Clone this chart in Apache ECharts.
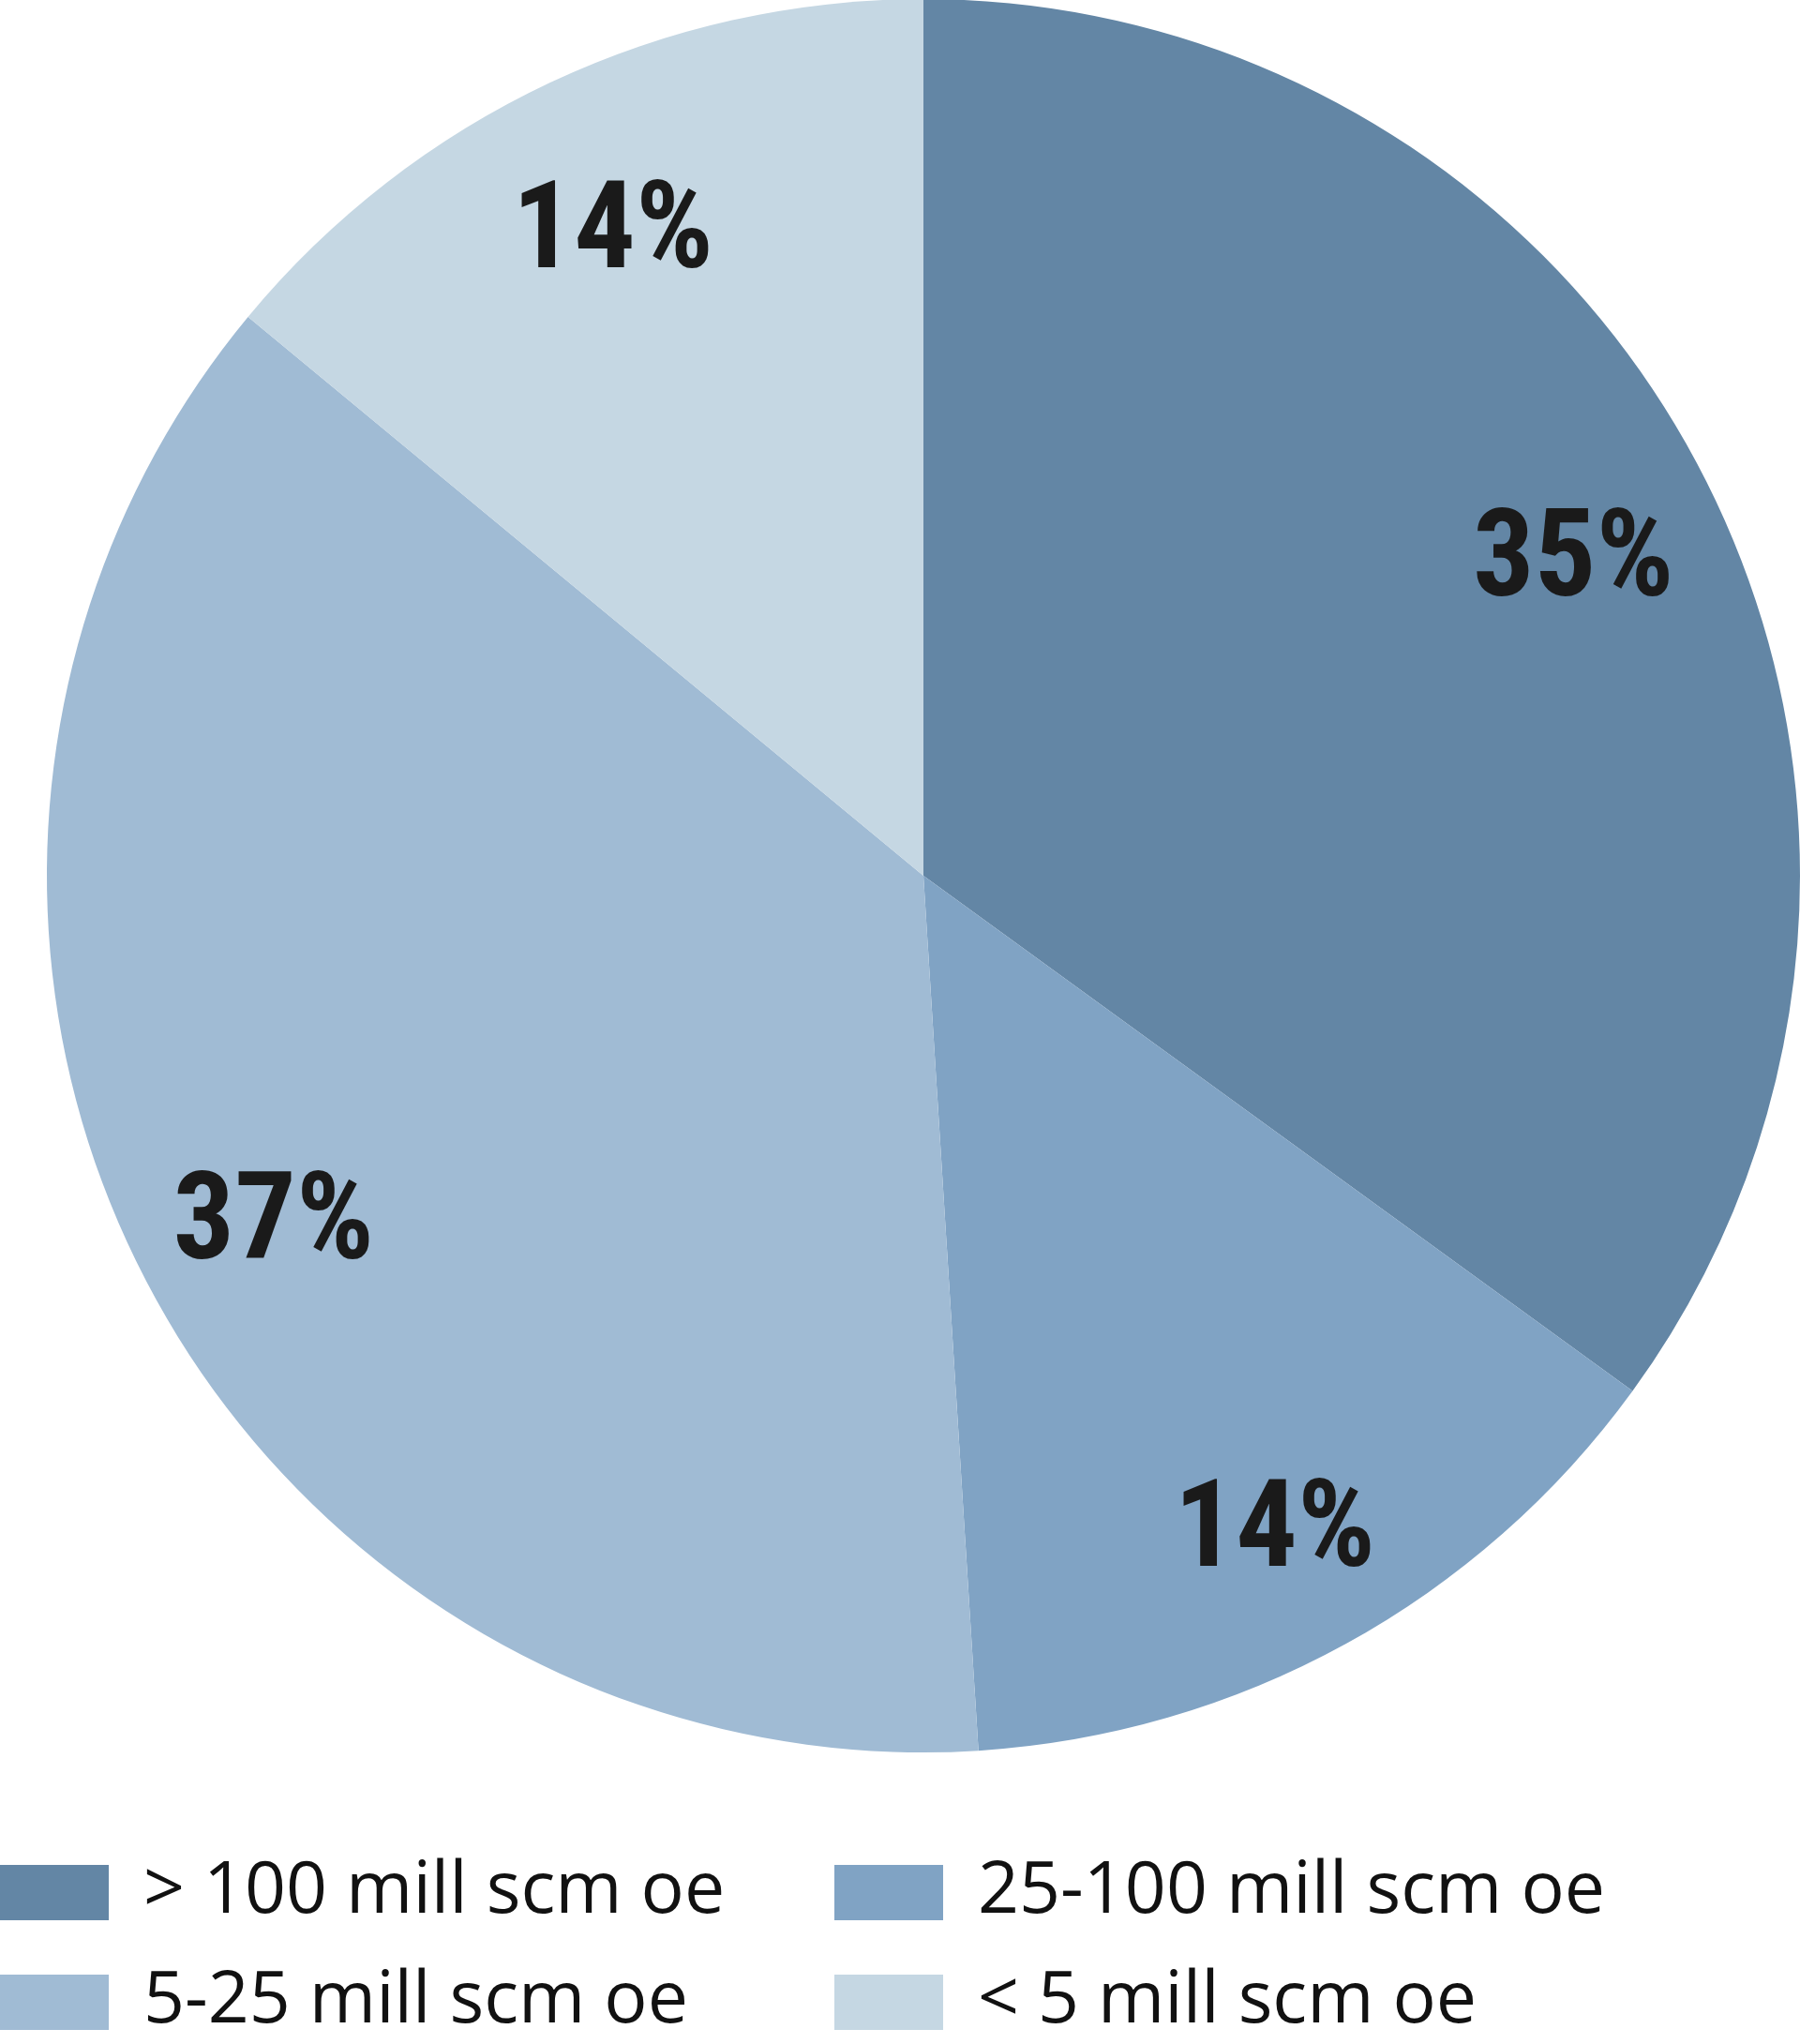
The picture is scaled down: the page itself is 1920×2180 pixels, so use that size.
<!DOCTYPE html>
<html>
<head>
<meta charset="utf-8">
<title>Pie</title>
<script src="https://cdn.jsdelivr.net/npm/echarts@6/dist/echarts.min.js"></script>
<style>
    html, body { margin: 0; padding: 0; background: #fff; }
    #main { width: 1920px; height: 2180px; }
</style>
</head>
<body>
<div id="main"></div>
<script>
// data
var categories = ['> 100 mill scm oe', '25-100 mill scm oe', '5-25 mill scm oe', '< 5 mill scm oe'];
var shares = [35, 14, 37, 14];
var colors = ['#6386a5', '#80a3c4', '#a0bbd4', '#c5d7e3'];

var myChart = echarts.init(document.getElementById('main'));

var pieData = [];
var labelData = [];
for (var i = 0; i < categories.length; i++) {
    pieData.push({ name: categories[i], value: shares[i], itemStyle: { color: colors[i] } });
    labelData.push({ name: categories[i], value: shares[i] });
}

// one legend per item: 2 columns x 2 rows under the pie
var legendSlots = [[0, 1980], [890, 1980], [0, 2097], [890, 2097]];
var legends = [];
for (var j = 0; j < categories.length; j++) {
    legends.push({
        left: legendSlots[j][0],
        top: legendSlots[j][1],
        padding: 0,
        itemWidth: 116,
        itemHeight: 59,
        icon: 'rect',
        selectedMode: false,
        data: [categories[j]],
        textStyle: {
            fontFamily: 'Open Sans',
            fontSize: 77,
            lineHeight: 59,
            color: '#111',
            padding: [0, 0, 0, 32]
        }
    });
}

option = {
    animation: false,
    backgroundColor: '#fff',
    legend: legends,
    series: [{
        name: 'share',
        type: 'pie',
        center: [985, 934],
        radius: 935,
        startAngle: 90,
        clockwise: true,
        silent: true,
        label: { show: false },
        labelLine: { show: false },
        data: pieData
    }, {
        // label ring on top of the pie so the labels land near the rim
        name: 'labels',
        type: 'pie',
        center: [985, 934],
        radius: [615, 935],
        startAngle: 90,
        clockwise: true,
        silent: true,
        itemStyle: { color: 'rgba(0,0,0,0)' },
        label: {
            show: true,
            position: 'inside',
            formatter: '{p|{c}%}',
            rich: {
                p: {
                    fontFamily: "'Roboto Condensed', Roboto",
                    fontWeight: 'bold',
                    fontSize: 130,
                    padding: [44, 0, 0, 0],
                    color: '#1a1a1a'
                }
            }
        },
        labelLine: { show: false },
        legendHoverLink: false,
        data: labelData
    }]
};

myChart.setOption(option);
</script>
</body>
</html>
